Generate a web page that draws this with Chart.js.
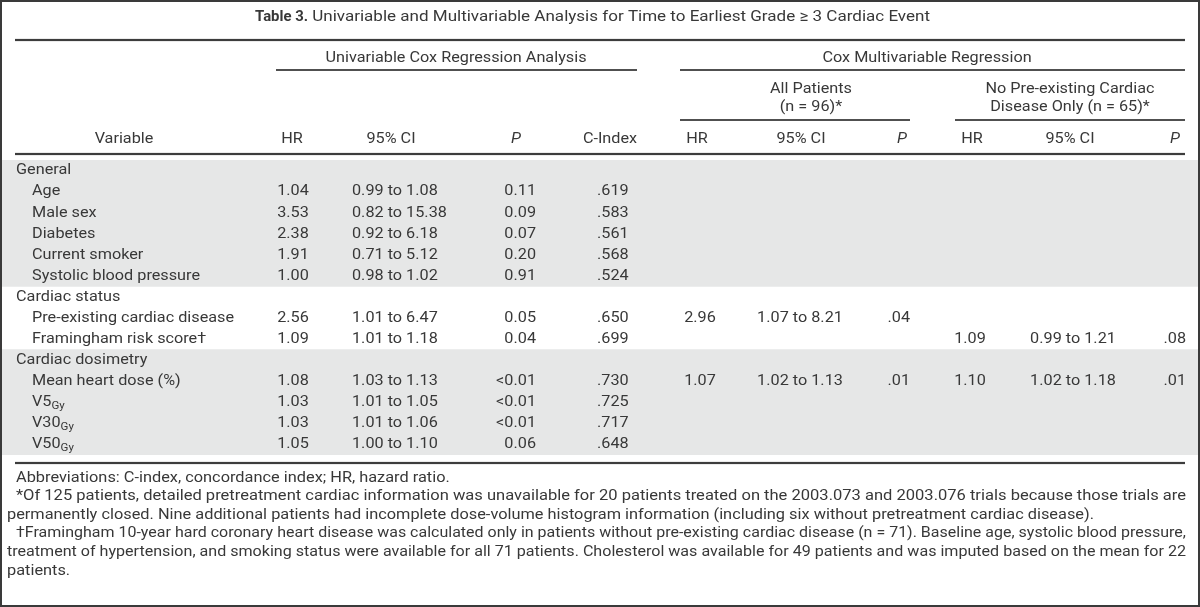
<!DOCTYPE html>
<html lang="en">
<head>
<meta charset="UTF-8">
<title>Table 3 - Univariable and Multivariable Analysis</title>
<script src="https://cdn.jsdelivr.net/npm/chart.js@4.4.0/dist/chart.umd.min.js"></script>
<style>
  html, body { margin: 0; padding: 0; background: #fff; }
  canvas { display: block; }
</style>
</head>
<body>
<canvas id="chart" width="1200" height="607"></canvas>
<script>
// table rows (body), one entry per row
const rowLabels = ['General', 'Age', 'Male sex', 'Diabetes', 'Current smoker', 'Systolic blood pressure',
  'Cardiac status', 'Pre-existing cardiac disease', 'Framingham risk score\u2020',
  'Cardiac dosimetry', 'Mean heart dose (%)', 'V5', 'V30', 'V50']
const rowSub = ['', '', '', '', '', '', '', '', '', '', '', 'Gy', 'Gy', 'Gy']
const isGroup = [1, 0, 0, 0, 0, 0, 1, 0, 0, 1, 0, 0, 0, 0]
const shaded = [1, 1, 1, 1, 1, 1, 0, 0, 0, 1, 1, 1, 1, 1]

// univariable Cox regression
const uniHR = ['', '1.04', '3.53', '2.38', '1.91', '1.00', '', '2.56', '1.09', '', '1.08', '1.03', '1.03', '1.05']
const uniCI = ['', '0.99 to 1.08', '0.82 to 15.38', '0.92 to 6.18', '0.71 to 5.12', '0.98 to 1.02', '',
  '1.01 to 6.47', '1.01 to 1.18', '', '1.03 to 1.13', '1.01 to 1.05', '1.01 to 1.06', '1.00 to 1.10']
const uniP = ['', '0.11', '0.09', '0.07', '0.20', '0.91', '', '0.05', '0.04', '', '<0.01', '<0.01', '<0.01', '0.06']
const cIndex = ['', '.619', '.583', '.561', '.568', '.524', '', '.650', '.699', '', '.730', '.725', '.717', '.648']

// multivariable: all patients
const allHR = ['', '', '', '', '', '', '', '2.96', '', '', '1.07', '', '', '']
const allCI = ['', '', '', '', '', '', '', '1.07 to 8.21', '', '', '1.02 to 1.13', '', '', '']
const allP = ['', '', '', '', '', '', '', '.04', '', '', '.01', '', '', '']

// multivariable: no pre-existing cardiac disease
const noHR = ['', '', '', '', '', '', '', '', '1.09', '', '1.10', '', '', '']
const noCI = ['', '', '', '', '', '', '', '', '0.99 to 1.21', '', '1.02 to 1.18', '', '', '']
const noP = ['', '', '', '', '', '', '', '', '.08', '', '.01', '', '', '']

const colHeads = ['Variable', 'HR', '95% CI', 'P', 'C-Index', 'HR', '95% CI', 'P', 'HR', '95% CI', 'P']
const titleBold = 'Table 3.'
const titleRest = ' Univariable and Multivariable Analysis for Time to Earliest Grade \u2265 3 Cardiac Event'

const footnotes = [
  'Abbreviations: C-index, concordance index; HR, hazard ratio.',
  '*Of 125 patients, detailed pretreatment cardiac information was unavailable for 20 patients treated on the 2003.073 and 2003.076 trials because those trials are',
  'permanently closed. Nine additional patients had incomplete dose-volume histogram information (including six without pretreatment cardiac disease).',
  '\u2020Framingham 10-year hard coronary heart disease was calculated only in patients without pre-existing cardiac disease (n = 71). Baseline age, systolic blood pressure,',
  'treatment of hypertension, and smoking status were available for all 71 patients. Cholesterol was available for 49 patients and was imputed based on the mean for 22',
  'patients.'
]
const noteIndent = [16, 16, 7, 16, 7, 7]
// right end of each justified footnote line (0 = ragged, use the paragraph face)
const noteEnd = [0, 1186, 1094, 1186, 1186, 0]

const FAMILY = 'Roboto, "Liberation Sans", Arial, sans-serif'
const INK = '#383838'
const RULE = '#3d3d3d'

// font: size sets glyph height, sx squeezes it to the narrower face of the original
function makeFont(c, weight, size, sample, target) {
  const f = weight + ' ' + size + 'px ' + FAMILY
  c.font = f
  return { font: f, sx: target / c.measureText(sample).width }
}

function put(c, s, x, y, align, f) {
  c.font = f.font
  c.textAlign = align
  c.save()
  c.translate(x, y)
  c.scale(f.sx, 1)
  c.fillText(s, 0, 0)
  c.restore()
  return c.measureText(s).width * f.sx
}

function rule(c, x1, x2, y, w) {
  c.fillStyle = RULE
  c.fillRect(x1, y - w / 2, x2 - x1, w)
  c.fillStyle = INK
}

const tablePlugin = {
  id: 'tableText',
  beforeDraw(chart) {
    const c = chart.ctx
    c.save()
    c.fillStyle = '#fff'
    c.fillRect(0, 0, chart.width, chart.height)
    c.restore()
  },
  afterDraw(chart) {
    const c = chart.ctx
    const xs = chart.scales.x, ys = chart.scales.y
    const px = v => xs.getPixelForValue(v)
    const rowY = i => ys.getPixelForValue(i)

    const W = 400
    const body = makeFont(c, W, 15.5, 'Systolic blood pressure', 168)
    const bodyIt = { font: 'italic ' + body.font, sx: body.sx }
    const sub = { font: W + ' 11px ' + FAMILY, sx: body.sx }

    c.save()
    c.textBaseline = 'middle'
    c.fillStyle = INK

    // title
    const tb = makeFont(c, 'bold', 15.5, titleBold, 53)
    const tr = makeFont(c, W, 15.5, titleRest, 622)
    const w0 = put(c, titleBold, px(255), 17, 'left', tb)
    put(c, titleRest, px(255) + w0, 17, 'left', tr)

    // rules
    rule(c, px(15), px(1185), 40, 2.2)
    rule(c, px(276), px(637), 70, 1.8)
    rule(c, px(680), px(1185), 70, 1.8)
    rule(c, px(680), px(910), 120, 1.8)
    rule(c, px(955), px(1185), 120, 1.8)
    rule(c, px(15), px(1185), 154, 2.2)
    rule(c, px(15), px(1185), 463, 2.2)

    // spanner headers
    put(c, 'Univariable Cox Regression Analysis', px(456), 58, 'center', body)
    put(c, 'Cox Multivariable Regression', px(927), 58, 'center', body)
    put(c, 'All Patients', px(811), 89, 'center', body)
    put(c, '(n = 96)*', px(811), 107, 'center', body)
    put(c, 'No Pre-existing Cardiac', px(1070), 89, 'center', body)
    put(c, 'Disease Only (n = 65)*', px(1070), 107, 'center', body)

    // column headers
    const headX = [124, 292, 391, 516, 610, 697, 801, 902, 972, 1070, 1175]
    colHeads.forEach((h, i) => put(c, h, px(headX[i]), 139, 'center', h === 'P' ? bodyIt : body))

    // body cells
    const cols = [
      { vals: uniHR, x: 293, align: 'center' },
      { vals: uniCI, x: 352, align: 'left' },
      { vals: uniP, x: 536, align: 'right' },
      { vals: cIndex, x: 597, align: 'left' },
      { vals: allHR, x: 700, align: 'center' },
      { vals: allCI, x: 800, align: 'center' },
      { vals: allP, x: 910, align: 'right' },
      { vals: noHR, x: 970, align: 'center' },
      { vals: noCI, x: 1073, align: 'center' },
      { vals: noP, x: 1186, align: 'right' }
    ]
    rowLabels.forEach((lab, i) => {
      const y = rowY(i)
      const lx = px(isGroup[i] ? 16 : 32)
      const w = put(c, lab, lx, y, 'left', body)
      if (rowSub[i]) put(c, rowSub[i], lx + w, y + 4, 'left', sub)
      cols.forEach(col => { if (col.vals[i]) put(c, col.vals[i], px(col.x), y, col.align, body) })
    })

    // footnotes: full lines are fitted to their printed span
    const para = makeFont(c, W, 14.5, footnotes[2], noteEnd[2] - noteIndent[2])
    footnotes.forEach((line, i) => {
      const y = 478 + i * 18.6
      const f = noteEnd[i] ? makeFont(c, W, 14.5, line, px(noteEnd[i]) - px(noteIndent[i])) : para
      put(c, line, px(noteIndent[i]), y, 'left', f)
    })

    // frame
    c.strokeStyle = '#3a3a3a'
    c.lineWidth = 2
    c.strokeRect(1, 1, chart.width - 2, chart.height - 2)
    c.restore()
  }
}

new Chart(document.getElementById('chart').getContext('2d'), {
  type: 'bar',
  data: {
    labels: rowLabels,
    datasets: [{
      data: shaded.map(s => s ? [0, 1200] : null),
      backgroundColor: '#e6e7e7',
      borderWidth: 0,
      barPercentage: 1,
      categoryPercentage: 1
    }]
  },
  options: {
    indexAxis: 'y',
    responsive: false,
    animation: false,
    layout: { padding: { top: 160, bottom: 152, left: 0, right: 0 } },
    plugins: { legend: { display: false }, tooltip: { enabled: false } },
    scales: {
      x: { type: 'linear', min: 0, max: 1200, display: false },
      y: { display: false, grid: { display: false } }
    }
  },
  plugins: [tablePlugin]
})
</script>
</body>
</html>
